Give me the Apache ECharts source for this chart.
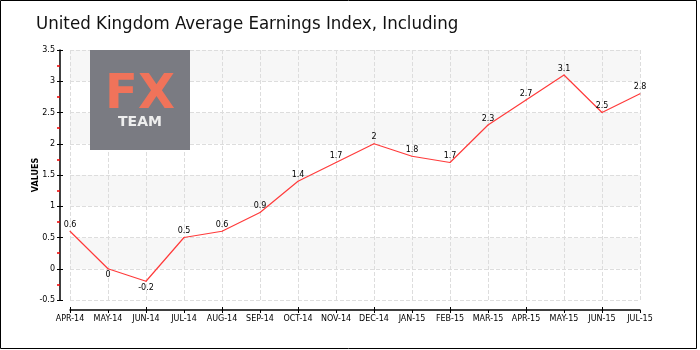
<!DOCTYPE html>
<html><head><meta charset="utf-8">
<script src="https://cdn.jsdelivr.net/npm/echarts@6/dist/echarts.min.js"></script>
<style>html,body{margin:0;padding:0;background:#fff}#c{width:700px;height:350px}</style>
</head><body><div id="c"></div>
<script>
const titleText = 'United Kingdom Average Earnings Index, Including';
const categories = ['APR-14','MAY-14','JUN-14','JUL-14','AUG-14','SEP-14','OCT-14','NOV-14','DEC-14','JAN-15','FEB-15','MAR-15','APR-15','MAY-15','JUN-15','JUL-15'];
const values = [0.6, 0, -0.2, 0.5, 0.6, 0.9, 1.4, 1.7, 2, 1.8, 1.7, 2.3, 2.7, 3.1, 2.5, 2.8];
const yMin = -0.5, yMax = 3.5, yStep = 0.5;
const yName = 'VALUES';

const chart = echarts.init(document.getElementById('c'), null, {renderer:'canvas'});
const F = 'DejaVu Sans';
chart.setOption({
  animation:false,
  title:{text:titleText,left:31,top:10,textStyle:{fontFamily:'DejaVu Sans Condensed',fontWeight:'normal',fontSize:18.5,color:'#111'}},
  grid:{left:70,right:60,top:50,bottom:50},
  graphic:[
    {type:'rect',shape:{x:0.5,y:0.5,width:696,height:348},style:{fill:null,stroke:'#000',lineWidth:1},z:100},
    {type:'rect',shape:{x:90,y:50,width:100,height:100},style:{fill:'#7a7b82'},z:50},
    {type:'text',x:140,y:96,style:{text:'FX',fill:'#f0735a',font:'bold 48px "DejaVu Sans"',textAlign:'center',textVerticalAlign:'middle'},z:51},
    {type:'text',x:140,y:122,style:{text:'TEAM',fill:'#eeeeee',font:'bold 14px "DejaVu Sans"',textAlign:'center',textVerticalAlign:'middle'},z:51}
  ],
  xAxis:[{type:'category',data:categories,boundaryGap:false,offset:10,
    axisLine:{onZero:false,lineStyle:{color:'#000',width:1.5}},
    axisTick:{length:3,lineStyle:{color:'#000'}},
    axisLabel:{fontFamily:F,fontSize:8,color:'#000',margin:5,interval:0},
    splitLine:{show:true,lineStyle:{color:'#ddd',type:'dashed'}}},
    {type:'category',data:categories,boundaryGap:false,position:'bottom',offset:10,
    axisLine:{show:false,onZero:false},axisTick:{show:true,inside:true,length:3,lineStyle:{color:'#000'}},
    axisLabel:{show:false},splitLine:{show:false}}],
  yAxis:[{type:'value',min:yMin,max:yMax,interval:yStep,offset:10,
    name:yName,nameLocation:'middle',nameGap:20,nameRotate:90,nameMoveOverlap:false,
    nameTextStyle:{fontFamily:F,fontSize:8,fontWeight:'bold',color:'#000'},
    axisLine:{show:true,lineStyle:{color:'#000',width:1.5}},
    axisTick:{show:true,length:3,lineStyle:{color:'#000'}},
    minorTick:{show:true,splitNumber:2,length:3,lineStyle:{color:'#e00',width:1.5}},
    axisLabel:{fontFamily:F,fontSize:8,color:'#000',margin:5},
    splitLine:{show:true,lineStyle:{color:'#ddd',type:'dashed'}},
    splitArea:{show:true,areaStyle:{color:['#ffffff','#f7f7f7']}}},
    {type:'value',min:yMin,max:yMax,interval:yStep,offset:10,position:'left',
    axisLine:{show:false},axisTick:{show:true,inside:true,length:3,lineStyle:{color:'#000'}},
    axisLabel:{show:false},splitLine:{show:false},splitArea:{show:false}}],
  series:[{type:'line',data:values.map(v=>({value:v,label:{position:v<=0?'bottom':'top'}})),
    symbol:'circle',symbolSize:1,itemStyle:{color:'#ff3b3b'},
    lineStyle:{color:'#ff3b3b',width:1.2},
    label:{show:true,fontFamily:F,fontSize:8,color:'#000',distance:2}}]
});
</script></body></html>
